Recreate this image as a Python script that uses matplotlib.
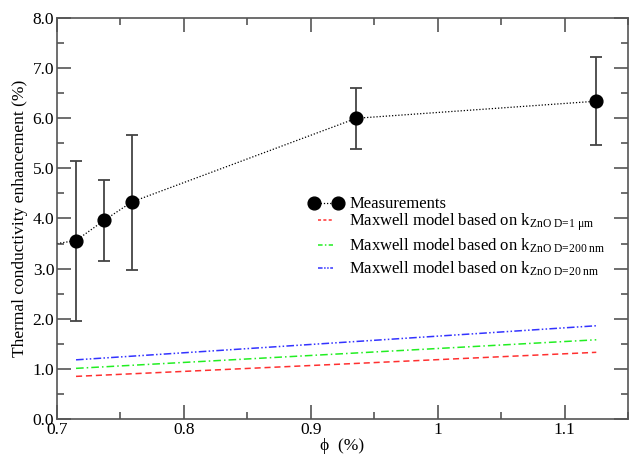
import numpy as np
import matplotlib
matplotlib.use("Agg")
import matplotlib.pyplot as plt
from matplotlib.ticker import MultipleLocator

plt.rcParams['font.family'] = ['Liberation Serif', 'DejaVu Serif']
plt.rcParams['mathtext.fontset'] = 'custom'
plt.rcParams['mathtext.rm'] = 'Liberation Serif'
plt.rcParams['mathtext.it'] = 'Liberation Serif:italic'

# measured enhancement with error bars
phi = [0.715, 0.737, 0.759, 0.936, 1.125]
enh = [3.56, 3.96, 4.33, 6.00, 6.34]
err_hi = [5.15, 4.76, 5.67, 6.60, 7.22]
err_lo = [1.95, 3.16, 2.98, 5.38, 5.47]

# dotted guide line through the measurements (starts at the axis)
guide_x = [0.700, 0.715, 0.737, 0.759, 0.936, 1.125]
guide_y = [3.50, 3.56, 3.96, 4.33, 6.00, 6.34]

# Maxwell model predictions
model_x = [0.715, 1.125]
model_1um = [0.85, 1.33]
model_200nm = [1.01, 1.58]
model_20nm = [1.18, 1.86]

xticks = [0.7, 0.8, 0.9, 1.0, 1.1]
xticklabels = ["0.7", "0.8", "0.9", "1", "1.1"]

fig = plt.figure(figsize=(6.29, 4.57), dpi=100)
ax = fig.add_axes([0.0906, 0.0832, 0.9078, 0.8774])

axis_col = "#555555"
lo = np.array(enh) - np.array(err_lo)
hi = np.array(err_hi) - np.array(enh)

ax.plot(guide_x, guide_y, color="black", linestyle=(0, (1, 1.5)), linewidth=0.9, zorder=2)
ax.errorbar(phi, enh, yerr=[lo, hi], fmt="none", ecolor="#444444",
            elinewidth=1.3, capsize=4.5, capthick=1.3, zorder=3)
ax.plot(phi, enh, "o", color="black", markersize=9.2, zorder=4)

ax.plot(model_x, model_1um, color="#ff3030", linestyle=(0, (4, 2.5)), linewidth=1.1)
ax.plot(model_x, model_200nm, color="#22ee22", linestyle=(0, (5, 2, 1, 2)), linewidth=1.1)
ax.plot(model_x, model_20nm, color="#3333ff", linestyle=(0, (5, 1.5, 1, 1.5, 1, 1.5)), linewidth=1.1)

# legend: measurements on their own, model curves underneath
h_meas, = ax.plot([], [], color="black", linestyle=(0, (1, 1.5)), linewidth=0.9,
                  marker="o", markersize=9.2)
h1, = ax.plot([], [], color="#ff3030", linestyle=(0, (2, 1.5)), linewidth=1.1)
h2, = ax.plot([], [], color="#22ee22", linestyle=(0, (3, 1.5, 1, 1.5)), linewidth=1.1)
h3, = ax.plot([], [], color="#3333ff", linestyle=(0, (3, 1, 1, 1, 1, 1)), linewidth=1.1)
model_labels = [r"Maxwell model based on k$_{\text{ZnO D=1 μm}}$",
                r"Maxwell model based on k$_{\text{ZnO D=200 nm}}$",
                r"Maxwell model based on k$_{\text{ZnO D=20 nm}}$"]
leg_opts = dict(loc="upper left", frameon=False, fontsize=12, numpoints=2,
                borderpad=0, borderaxespad=0)
leg1 = ax.legend([h_meas], ["Measurements"], bbox_to_anchor=(0.442, 0.555),
                 handlelength=2.0, handletextpad=0.42, **leg_opts)
ax.add_artist(leg1)
ax.legend([h1, h2, h3], model_labels, bbox_to_anchor=(0.4476, 0.518),
          handlelength=1.5, handletextpad=0.7, labelspacing=0.25, **leg_opts)

ax.set_xlim(0.7, 1.15)
ax.set_ylim(0, 8)
ax.set_xticks(xticks)
ax.set_xticklabels(xticklabels)
ax.xaxis.set_minor_locator(MultipleLocator(0.05))
ax.yaxis.set_major_locator(MultipleLocator(1.0))
ax.yaxis.set_minor_locator(MultipleLocator(0.5))
ax.yaxis.set_major_formatter(matplotlib.ticker.FormatStrFormatter("%.1f"))

ax.tick_params(which="both", direction="in", top=True, right=True,
               color=axis_col, labelsize=12.5, width=1.2)
ax.tick_params(which="major", length=10, pad=2)
ax.tick_params(which="minor", length=5)
for s in ax.spines.values():
    s.set_color(axis_col)
    s.set_linewidth(1.2)

ax.set_xlabel("ϕ  (%)", fontsize=12.5, labelpad=0)
ax.set_ylabel("Thermal conductivity enhancement (%)", fontsize=12.5, labelpad=3)

fig.savefig("out.png", dpi=100)
